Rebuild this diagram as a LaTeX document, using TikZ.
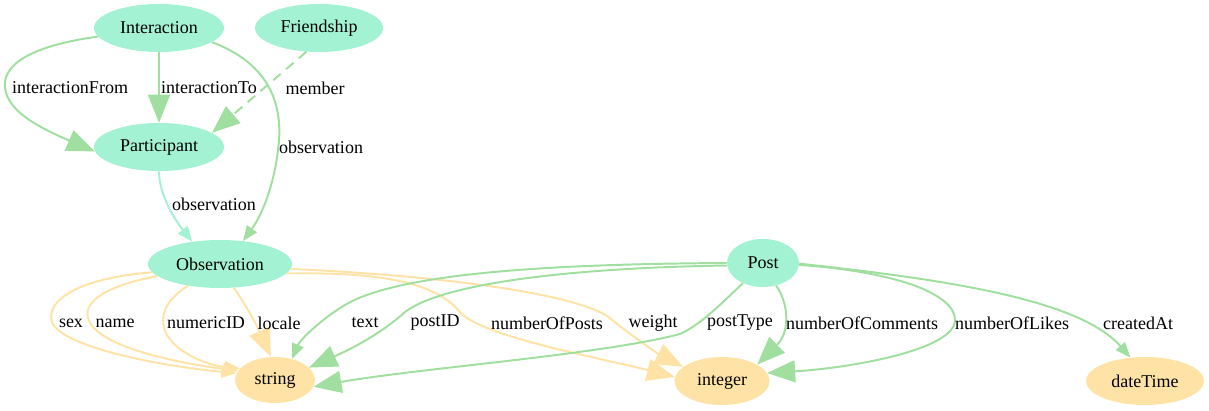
\documentclass[tikz,border=0pt]{standalone}
\usepackage{fontspec}
\setmainfont{Liberation Serif}
\usetikzlibrary{shapes.geometric,arrows.meta}
\definecolor{mint}{HTML}{A3F2D4}
\definecolor{sand}{HTML}{FFE3A6}
\definecolor{leaf}{HTML}{A0DFA0}
\tikzset{
  every node/.style={font=\rmfamily\fontsize{12.8}{15}\selectfont},
  cls/.style={ellipse,fill=mint,inner sep=0pt,minimum height=1.2cm},
  lit/.style={ellipse,fill=sand,inner sep=0pt,minimum height=1.2cm},
  rel/.style={draw=leaf,line width=1.4pt,-{Triangle[length=0.38cm,width=0.3cm]}},
  relbig/.style={rel,-{Triangle[length=0.7cm,width=0.55cm]}},
  attr/.style={rel,draw=sand},
  attrbig/.style={relbig,draw=sand},
  elabel/.style={inner sep=0pt}
}
\begin{document}
\begin{tikzpicture}[x=0.025cm,y=-0.025cm]
\useasboundingbox (0,0) rectangle (1209,411);
\node[cls,minimum width=3.25cm] (inter) at (159,28) {Interaction};
\node[cls,minimum width=3.2cm] (friend) at (319,28) {Friendship};
\node[cls,minimum width=3.25cm] (part) at (159,147) {Participant};
\node[cls,minimum width=3.6cm] (obs) at (220,264) {Observation};
\node[cls,minimum width=1.8cm] (post) at (763,263) {Post};
\node[lit,minimum width=2cm,minimum height=1.15cm] (str) at (275,380) {string};
\node[lit,minimum width=2.375cm] (int) at (722,381) {integer};
\node[lit,minimum width=2.95cm] (date) at (1145,381) {dateTime};

\draw[relbig] (inter.188) .. controls (30,46) and (2,65) .. (5,88)
  .. controls (8,112) and (40,128) .. (part.184);
\draw[relbig] (inter.south) -- (part.north);
\draw[relbig,dash pattern=on 7pt off 5pt] (friend.-118) -- (part.15);
\draw[rel] (inter.-15) .. controls (265,62) and (285,100) .. (278,150)
  .. controls (274,185) and (262,215) .. (obs.45);
\draw[rel,draw=mint] (part.south) .. controls (159,195) and (175,220) .. (obs.141);

\draw[attr] (obs.187) .. controls (80,278) and (45,300) .. (52,322)
  .. controls (60,345) and (150,365) .. (str.170);
\draw[attr] (obs.191) .. controls (110,285) and (83,300) .. (88,318)
  .. controls (95,345) and (170,362) .. (str.166);
\draw[attr] (obs.214) .. controls (170,298) and (160,310) .. (164,328)
  .. controls (170,350) and (205,365) .. (str.162);
\draw[attrbig] (obs.-60) .. controls (248,308) and (258,328) .. (str.100);
\draw[attrbig] (obs.-8) .. controls (380,272) and (435,282) .. (460,312)
  .. controls (480,336) and (600,358) .. (int.175);
\draw[attrbig] (obs.-4) .. controls (450,276) and (580,295) .. (610,318)
  .. controls (630,335) and (660,355) .. (int.160);

\draw[rel] (post.180) .. controls (560,264) and (400,272) .. (345,305)
  .. controls (320,320) and (300,340) .. (str.51);
\draw[relbig] (post.184) .. controls (560,268) and (440,285) .. (405,312)
  .. controls (385,330) and (360,345) .. (str.20);
\draw[relbig] (post.225) .. controls (720,305) and (700,325) .. (680,334)
  .. controls (600,355) and (420,368) .. (str.-10);
\draw[relbig] (post.-60) .. controls (787,300) and (792,330) .. (int.25);
\draw[relbig] (post.-3) .. controls (900,272) and (955,295) .. (955,320)
  .. controls (955,350) and (850,368) .. (int.10);
\draw[rel] (post.-1) .. controls (950,280) and (1080,300) .. (date.122);

\node[elabel] (lFrom) at (70,88) {interactionFrom};
\node[elabel] (lTo) at (209,88) {interactionTo};
\node[elabel] (lMember) at (315,88) {member};
\node[elabel] (lObsI) at (321,147) {observation};
\node[elabel] (lObsP) at (214,204) {observation};
\node[elabel] (lSex) at (71,323) {sex};
\node[elabel] (lName) at (115,323) {name};
\node[elabel] (lNum) at (206,323) {numericID};
\node[elabel] (lLocale) at (279,323) {locale};
\node[elabel] (lText) at (365,323) {text};
\node[elabel] (lPostID) at (435,323) {postID};
\node[elabel] (lPosts) at (547,323) {numberOfPosts};
\node[elabel] (lWeight) at (653,323) {weight};
\node[elabel] (lType) at (740,323) {postType};
\node[elabel] (lComm) at (862,323) {numberOfComments};
\node[elabel] (lLikes) at (1012,323) {numberOfLikes};
\node[elabel] (lDate) at (1138,323) {createdAt};
\end{tikzpicture}
\end{document}
